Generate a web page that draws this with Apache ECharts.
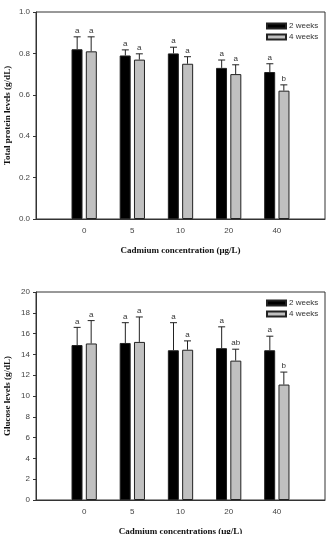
<!DOCTYPE html>
<html>
<head>
<meta charset="utf-8">
<script src="https://cdn.jsdelivr.net/npm/echarts@6/dist/echarts.min.js"></script>
<style>
html,body{margin:0;padding:0;background:#fff;}
#main{width:329px;height:534px;}
</style>
</head>
<body>
<div id="main"></div>
<script>
// tick labels at positions 1..5 of a 0..6 axis
var cats = ['', '0', '5', '10', '20', '40', ''];

// total protein (g/dL)
var prot2w = [0.82, 0.79, 0.80, 0.73, 0.71];
var prot2wErr = [0.88, 0.817, 0.83, 0.768, 0.75];
var prot4w = [0.81, 0.77, 0.75, 0.70, 0.62];
var prot4wErr = [0.88, 0.798, 0.784, 0.745, 0.648];
var prot2wLet = ['a', 'a', 'a', 'a', 'a'];
var prot4wLet = ['a', 'a', 'a', 'a', 'b'];

// glucose (g/dL)
var glu2w = [14.9, 15.1, 14.4, 14.6, 14.4];
var glu2wErr = [16.6, 17.05, 17.05, 16.65, 15.75];
var glu4w = [15.05, 15.2, 14.45, 13.4, 11.1];
var glu4wErr = [17.25, 17.6, 15.3, 14.5, 12.3];
var glu2wLet = ['a', 'a', 'a', 'a', 'a'];
var glu4wLet = ['a', 'a', 'a', 'ab', 'b'];

var sans = 'Liberation Sans';
var serif = 'Liberation Serif';

function pts(vals) {
    return vals.map(function (v, i) { return [i + 1, v]; });
}

function errData(vals, tops, lets) {
    var out = [];
    for (var i = 0; i < vals.length; i++) {
        out.push([i + 1, vals[i], tops[i], lets[i]]);
    }
    return out;
}

function errSeries(name, xi, vals, tops, lets, shift) {
    return {
        type: 'custom',
        name: name + ' err',
        xAxisIndex: xi,
        yAxisIndex: xi,
        data: errData(vals, tops, lets),
        z: 5,
        renderItem: function (params, api) {
            var base = api.coord([api.value(0), api.value(1)]);
            var top = api.coord([api.value(0), api.value(2)]);
            var x = base[0] + shift;
            var cap = 3.5;
            var st = {stroke: '#222', lineWidth: 1};
            return {
                type: 'group',
                children: [
                    {type: 'line', shape: {x1: x, y1: base[1], x2: x, y2: top[1]}, style: st},
                    {type: 'line', shape: {x1: x - cap, y1: top[1], x2: x + cap, y2: top[1]}, style: st},
                    {type: 'text', style: {
                        x: x, y: top[1] - 2, text: api.value(3),
                        textAlign: 'center', textVerticalAlign: 'bottom',
                        font: '8px ' + sans, fill: '#333'
                    }}
                ]
            };
        }
    };
}

function barSeries(name, xi, vals, color) {
    return {
        type: 'bar',
        name: name,
        xAxisIndex: xi,
        yAxisIndex: xi,
        data: pts(vals),
        barWidth: 11,
        barGap: '30%',
        itemStyle: {color: color, borderColor: '#222', borderWidth: 1}
    };
}

function xAx(gi, title) {
    return {
        type: 'value',
        gridIndex: gi,
        min: 0,
        max: 6,
        interval: 1,
        axisLine: {lineStyle: {color: '#333', width: 1}},
        axisTick: {show: false},
        axisLabel: {color: '#444', fontSize: 8, fontFamily: sans, margin: 8,
            formatter: function (v) { return cats[v] || ''; }},
        splitLine: {show: false},
        name: title,
        nameLocation: 'middle',
        nameGap: 27,
        nameMoveOverlap: false,
        nameTextStyle: {fontFamily: serif, fontWeight: 'bold', fontSize: 9, color: '#111'}
    };
}

function yAx(gi, max, step, dec, title) {
    return {
        type: 'value',
        gridIndex: gi,
        min: 0,
        max: max,
        interval: step,
        axisLine: {show: true, lineStyle: {color: '#333', width: 1}},
        axisTick: {show: true, length: 3, lineStyle: {color: '#333'}},
        axisLabel: {color: '#444', fontSize: 8, fontFamily: sans, margin: 6,
            formatter: function (v) { return v.toFixed(dec); }},
        splitLine: {show: false},
        name: title,
        nameLocation: 'middle',
        nameGap: 24,
        nameMoveOverlap: false,
        nameTextStyle: {fontFamily: serif, fontWeight: 'bold', fontSize: 9, color: '#111'}
    };
}

function legendAt(top) {
    return {
        data: ['2 weeks', '4 weeks'],
        orient: 'vertical',
        left: 266,
        top: top,
        padding: 0,
        icon: 'rect',
        itemWidth: 19,
        itemHeight: 5,
        itemGap: 1,
        selectedMode: false,
        textStyle: {fontSize: 8, fontFamily: sans, color: '#333', lineHeight: 10, padding: [0, 0, 0, -2]}
    };
}

var chart = echarts.init(document.getElementById('main'), null, {renderer: 'canvas'});
var option = {
    animation: false,
    backgroundColor: '#fff',
    grid: [
        {left: 36, top: 12, width: 289, height: 207, show: true, borderColor: '#333', borderWidth: 1,
            containLabel: false, outerBoundsMode: 'none'},
        {left: 36, top: 292, width: 289, height: 208, show: true, borderColor: '#333', borderWidth: 1,
            containLabel: false, outerBoundsMode: 'none'}
    ],
    legend: [legendAt(21), legendAt(298)],
    xAxis: [
        xAx(0, 'Cadmium concentration (μg/L)'),
        xAx(1, 'Cadmium concentrations (μg/L)')
    ],
    yAxis: [
        yAx(0, 1.0, 0.2, 1, 'Total protein levels (g/dL)'),
        yAx(1, 20, 2, 0, 'Glucose levels (g/dL)')
    ],
    series: [
        barSeries('2 weeks', 0, prot2w, '#000'),
        barSeries('4 weeks', 0, prot4w, '#c0c0c0'),
        barSeries('2 weeks', 1, glu2w, '#000'),
        barSeries('4 weeks', 1, glu4w, '#c0c0c0'),
        errSeries('2 weeks', 0, prot2w, prot2wErr, prot2wLet, -7),
        errSeries('4 weeks', 0, prot4w, prot4wErr, prot4wLet, 7),
        errSeries('2 weeks', 1, glu2w, glu2wErr, glu2wLet, -7),
        errSeries('4 weeks', 1, glu4w, glu4wErr, glu4wLet, 7)
    ]
};
chart.setOption(option);
</script>
</body>
</html>
